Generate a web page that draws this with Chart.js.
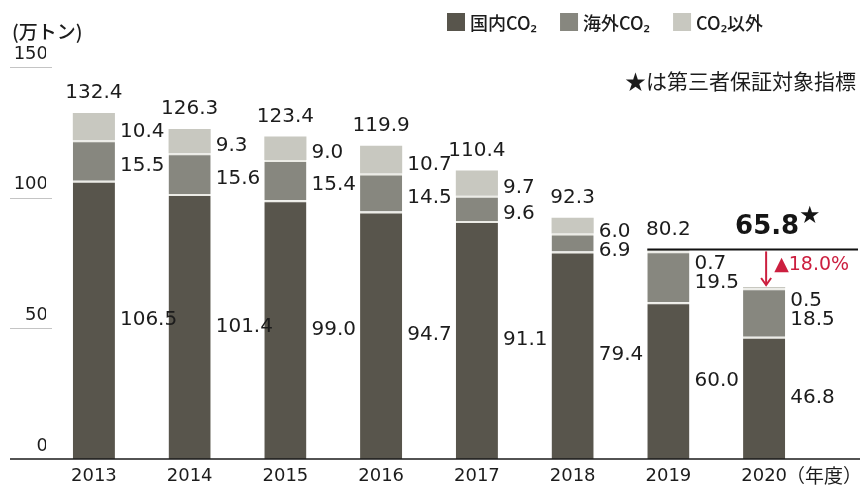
<!DOCTYPE html>
<html>
<head>
<meta charset="utf-8">
<script src="https://cdn.jsdelivr.net/npm/chart.js@4"></script>
<style>
html,body{margin:0;padding:0;background:#fff;}
#wrap{width:862px;height:485px;position:relative;}
</style>
</head>
<body>
<div id="wrap"><canvas id="c" width="862" height="485"></canvas></div>
<script>
// ---- data ----
const years    = ['2013','2014','2015','2016','2017','2018','2019','2020'];
const domestic = [106.5, 101.4, 99.0, 94.7, 91.1, 79.4, 60.0, 46.8];
const overseas = [15.5, 15.6, 15.4, 14.5, 9.6, 6.9, 19.5, 18.5];
const nonCO2   = [10.4, 9.3, 9.0, 10.7, 9.7, 6.0, 0.7, 0.5];
const totals   = [132.4, 126.3, 123.4, 119.9, 110.4, 92.3, 80.2, 65.8];
const seriesNames = ['国内CO₂', '海外CO₂', 'CO₂以外'];
const yTickValues = [0, 50, 100, 150];
const unitLabel = '(万トン)';
const yearLabel = '（年度）';
const noteLabel = '★は第三者保証対象指標';
const reductionLabel = '▲18.0%';

const COL = ['#58554c', '#87877f', '#c8c8c0'];
const TXT = '#1c1c1c';
const RED = '#cc1f3f';
const NUM = '"DejaVu Sans", sans-serif';
const JP = '"Noto Sans CJK JP", "Noto Sans", sans-serif';

const overlay = {
  id: 'overlay',
  afterDatasetsDraw(chart) {
    const ctx = chart.ctx;
    const y = chart.scales.y;
    const m0 = chart.getDatasetMeta(0);
    const y0 = y.getPixelForValue(0);
    ctx.save();
    // baseline
    ctx.strokeStyle = '#1a1a1a'; ctx.lineWidth = 1.6;
    ctx.beginPath(); ctx.moveTo(10, y0); ctx.lineTo(860, y0); ctx.stroke();
    // short tick underlines
    ctx.strokeStyle = '#c4c4c4'; ctx.lineWidth = 1;
    y.ticks.forEach(t => {
      if (t.value === 0) return;
      const py = Math.round(y.getPixelForValue(t.value)) + 0.5;
      ctx.beginPath(); ctx.moveTo(10, py); ctx.lineTo(52, py); ctx.stroke();
    });
    // value labels
    ctx.fillStyle = TXT;
    years.forEach((yr, i) => {
      const bd = m0.data[i];
      const lx = bd.x + bd.width / 2 + 5;
      const top = y.getPixelForValue(totals[i]);
      const oTop = y.getPixelForValue(domestic[i] + overseas[i]);
      const dTop = y.getPixelForValue(domestic[i]);
      const yN = Math.max((top + oTop) / 2 + 5, top + 14);
      const yO = Math.max((oTop + dTop) / 2 + 5, yN + 19);
      const yD = (dTop + y0) / 2;
      ctx.font = '20px ' + NUM;
      ctx.textAlign = 'left'; ctx.textBaseline = 'middle';
      ctx.fillText(nonCO2[i].toFixed(1), lx, yN);
      ctx.fillText(overseas[i].toFixed(1), lx, yO);
      ctx.fillText(domestic[i].toFixed(1), lx, yD);
      if (i < years.length - 1) {
        ctx.textAlign = 'center';
        ctx.fillText(totals[i].toFixed(1), bd.x, top - 20);
      }
    });
    // comparison line 2019 -> 2020
    const b19 = m0.data[6], b20 = m0.data[7];
    const lineY = y.getPixelForValue(totals[6]);
    const top20 = y.getPixelForValue(totals[7]);
    ctx.strokeStyle = '#111'; ctx.lineWidth = 2;
    ctx.beginPath(); ctx.moveTo(b19.x - b19.width / 2, lineY); ctx.lineTo(858, lineY); ctx.stroke();
    // red arrow
    const ax = b20.x + 2;
    ctx.strokeStyle = RED; ctx.lineWidth = 2;
    ctx.beginPath(); ctx.moveTo(ax, lineY + 2); ctx.lineTo(ax, top20 - 2); ctx.stroke();
    ctx.beginPath(); ctx.moveTo(ax - 5, top20 - 9); ctx.lineTo(ax, top20 - 2); ctx.lineTo(ax + 5, top20 - 9); ctx.stroke();
    ctx.fillStyle = RED; ctx.font = '19px ' + NUM;
    ctx.textAlign = 'left'; ctx.textBaseline = 'middle';
    ctx.fillText(reductionLabel, ax + 8, lineY + 16);
    // bold 2020 total with star
    ctx.fillStyle = '#151515';
    ctx.font = 'bold 26px ' + NUM;
    ctx.textAlign = 'center';
    ctx.fillText(totals[7].toFixed(1), b20.x + 3, lineY - 22);
    ctx.font = '24px ' + NUM;
    ctx.textAlign = 'left';
    ctx.fillText('★', 799, lineY - 33);
    ctx.restore();
  },
  afterDraw(chart) {
    const ctx = chart.ctx;
    ctx.save();
    // legend
    ctx.font = '500 18px ' + JP;
    ctx.textBaseline = 'middle'; ctx.textAlign = 'left';
    let x = 447;
    chart.data.datasets.forEach((ds, i) => {
      ctx.fillStyle = ds.backgroundColor;
      ctx.fillRect(x, 13, 18, 18);
      ctx.fillStyle = TXT;
      ctx.fillText(ds.label, x + 23, 23);
      x += 23 + ctx.measureText(ds.label).width + 23;
    });
    // unit and notes
    ctx.fillStyle = TXT;
    ctx.font = '500 19px ' + JP;
    ctx.fillText(unitLabel, 12, 32);
    ctx.font = '21px ' + JP;
    ctx.textAlign = 'right';
    ctx.fillText(noteLabel, 856, 81);
    ctx.font = '19px ' + JP;
    ctx.textAlign = 'left';
    ctx.fillText(yearLabel, 786, 476);
    ctx.restore();
  }
};

new Chart(document.getElementById('c'), {
  type: 'bar',
  data: {
    labels: years,
    datasets: [
      { label: seriesNames[0], data: domestic, backgroundColor: COL[0], borderColor: '#ecece6', borderWidth: {top: 2, left: 0, right: 0, bottom: 0}, borderSkipped: false },
      { label: seriesNames[1], data: overseas, backgroundColor: COL[1], borderColor: '#ecece6', borderWidth: {top: 2, left: 0, right: 0, bottom: 0}, borderSkipped: false },
      { label: seriesNames[2], data: nonCO2, backgroundColor: COL[2], borderWidth: 0 }
    ]
  },
  options: {
    responsive: false,
    devicePixelRatio: 1,
    animation: false,
    layout: { padding: { left: 0, right: 50, top: 67, bottom: 0 } },
    datasets: { bar: { categoryPercentage: 1, barPercentage: 0.44 } },
    plugins: { legend: { display: false }, tooltip: { enabled: false } },
    scales: {
      x: {
        stacked: true,
        grid: { display: false, drawTicks: false, tickLength: 0 },
        border: { display: false },
        ticks: { color: TXT, font: { family: NUM, size: 18 }, padding: 7, maxRotation: 0 },
        afterFit(s) { s.height = 26; }
      },
      y: {
        stacked: true,
        min: 0, max: 150,
        afterBuildTicks(s) { s.ticks = yTickValues.map(v => ({ value: v })); },
        grid: { display: false, drawTicks: false, tickLength: 0 },
        border: { display: false },
        ticks: { color: TXT, font: { family: NUM, size: 18 }, padding: -2, labelOffset: -13 },
        afterFit(s) { s.width = 46; }
      }
    }
  },
  plugins: [overlay]
});
</script>
</body>
</html>
